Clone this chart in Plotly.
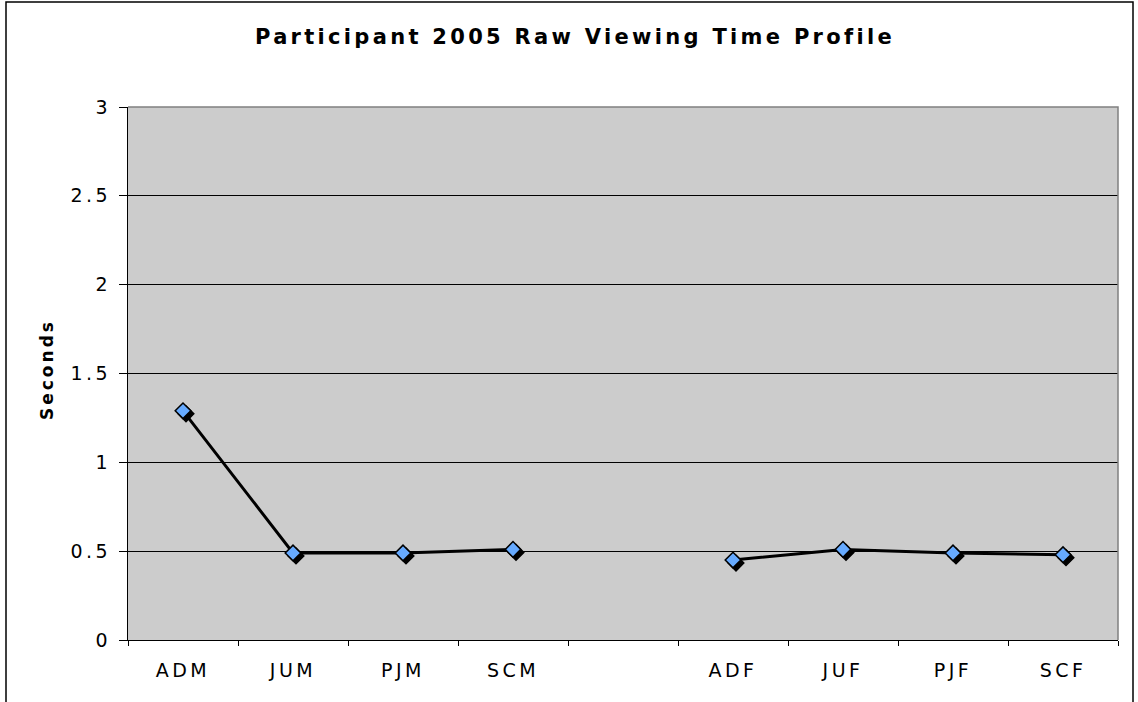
import plotly.graph_objects as go

categories = ["ADM", "JUM", "PJM", "SCM", " ", "ADF", "JUF", "PJF", "SCF"]
seconds = [1.29, 0.49, 0.49, 0.51, None, 0.45, 0.51, 0.49, 0.48]
y_ticks = [0, 0.5, 1, 1.5, 2, 2.5, 3]
y_tick_labels = ["0", "0.5", "1", "1.5", "2", "2.5", "3"]

W, H = 1138, 702
L, R, T, B = 128, 20, 107, 62
plot_w = W - L - R
plot_h = H - T - B
y_max = 3
shadow_px = 3  # drop shadow offset under each diamond

n = len(categories)
x_range = [-0.5, n - 0.5]
px_per_cat = plot_w / n
px_per_unit = plot_h / y_max

font = "DejaVu Sans, Verdana, sans-serif"


def spaced(text, px):
    # the old Excel export draws its text wide and loosely spaced
    return f"<span style='letter-spacing:{px}px'>{text}</span>"


fig = go.Figure()

# shadow diamonds on hidden axes shifted a few pixels right/down
fig.add_trace(go.Scatter(
    x=categories, y=seconds, xaxis="x", yaxis="y",
    mode="markers",
    marker=dict(symbol="diamond", size=12, color="black",
                line=dict(color="black", width=1.5)),
    hoverinfo="skip", showlegend=False,
))

# the line and the blue diamonds on the visible axes
fig.add_trace(go.Scatter(
    x=categories, y=seconds, xaxis="x2", yaxis="y2",
    mode="lines+markers", connectgaps=False,
    line=dict(color="black", width=3),
    marker=dict(symbol="diamond", size=12, color="#66AAFF",
                line=dict(color="black", width=1.5)),
    showlegend=False,
))

dx = shadow_px / px_per_cat
dy = shadow_px / px_per_unit

fig.update_layout(
    width=W, height=H,
    margin=dict(l=L, r=R, t=T, b=B, autoexpand=False),
    paper_bgcolor="white",
    plot_bgcolor="#CCCCCC",
    font=dict(family=font, color="black", size=19),
    title=dict(
        text="<b>" + spaced("Participant 2005 Raw Viewing Time Profile", 3.3) + "</b>",
        x=575 / W, xanchor="center",
        y=1 - 37 / H, yanchor="middle", yref="container",
        font=dict(family=font, size=21, color="black"),
    ),
    xaxis=dict(
        type="category", categoryorder="array", categoryarray=categories,
        range=[x_range[0] - dx, x_range[1] - dx],
        visible=False, showgrid=False, fixedrange=True,
    ),
    yaxis=dict(
        range=[dy, y_max + dy],
        visible=False, showgrid=False, zeroline=False, fixedrange=True,
    ),
    xaxis2=dict(
        type="category", categoryorder="array", categoryarray=categories,
        tickmode="array", tickvals=categories,
        ticktext=[spaced(c, 3.5) for c in categories],
        range=x_range, overlaying="x", side="bottom", anchor="y2",
        showgrid=False, showline=True, linecolor="black", linewidth=1,
        ticks="outside", ticklen=5, tickcolor="black", tickson="boundaries",
        ticklabelstandoff=13,
        tickfont=dict(family=font, size=19, color="black"),
    ),
    yaxis2=dict(
        range=[0, y_max], overlaying="y", side="left", anchor="x2",
        tickmode="array", tickvals=y_ticks,
        ticktext=[spaced(t, 3.5) for t in y_tick_labels],
        showgrid=True, gridcolor="black", gridwidth=1, zeroline=False,
        showline=True, linecolor="black", linewidth=1,
        ticks="outside", ticklen=8, tickcolor="black",
        ticklabelstandoff=4,
        tickfont=dict(family=font, size=19, color="black"),
    ),
    annotations=[dict(
        text="<b>" + spaced("Seconds", 3) + "</b>", textangle=-90,
        xref="paper", yref="paper",
        x=(47 - L) / plot_w, y=(H - B - 370) / plot_h,
        xanchor="center", yanchor="middle", showarrow=False,
        font=dict(family=font, size=17, color="black"),
    )],
    shapes=[
        # chart area border
        dict(type="rect", xref="paper", yref="paper",
             x0=(6 - L) / plot_w, x1=(1133 - L) / plot_w,
             y0=(H - B - 720) / plot_h, y1=(H - B - 2) / plot_h,
             line=dict(color="black", width=1.5), fillcolor="rgba(0,0,0,0)"),
        # grey top/right edge of the plot area
        dict(type="path", xref="paper", yref="paper",
             path="M 0 1 L 1 1 L 1 0",
             line=dict(color="#808080", width=1.5)),
    ],
)

fig.write_html("out.html", config={"displayModeBar": False},
               post_script="document.body.style.margin='0px';")
